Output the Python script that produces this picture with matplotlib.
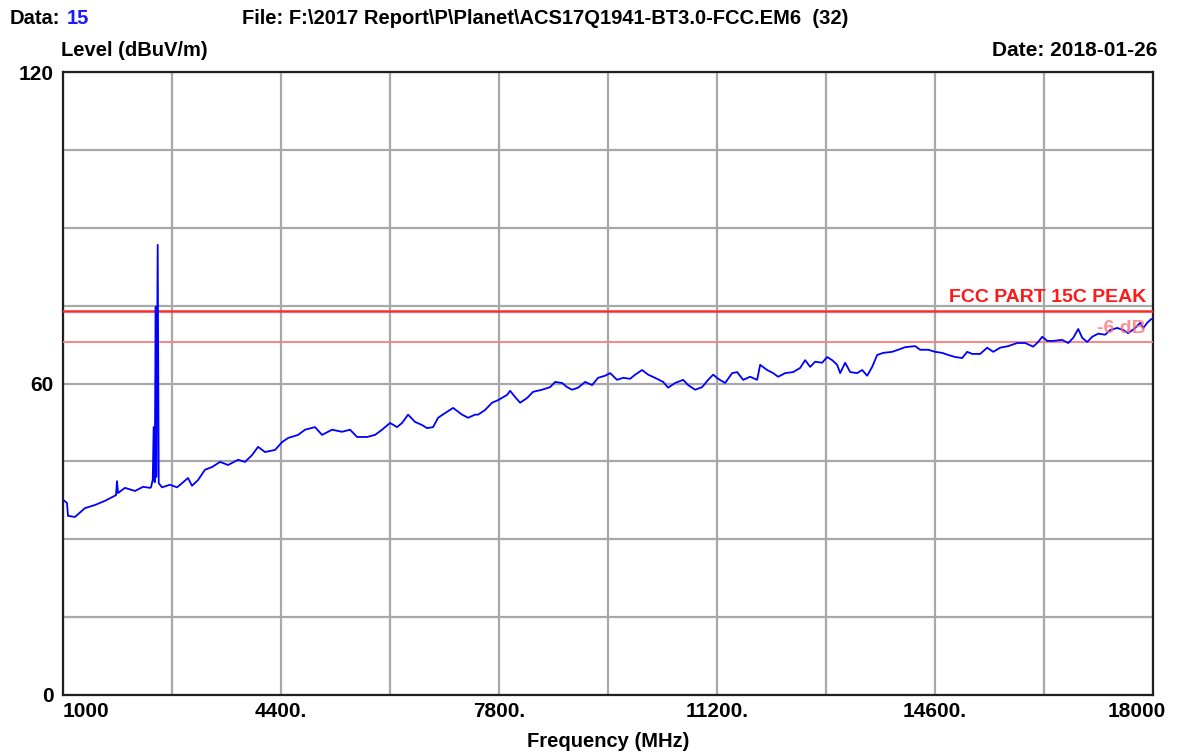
import matplotlib
matplotlib.use("Agg")
import matplotlib.pyplot as plt
import matplotlib.transforms as mtransforms

# ---------------- data ----------------
freq_mhz = [1000, 1062, 1078, 1187, 1343, 1499, 1655, 1780, 1827, 1842, 1858, 1967,
            2123, 2248, 2357, 2373, 2400, 2414, 2430, 2446, 2455, 2477, 2493,
            2544, 2669, 2778, 2856, 2950, 3012, 3106, 3215, 3324, 3449, 3574,
            3730, 3839, 3948, 4042, 4151, 4307, 4416, 4510, 4666, 4775, 4931,
            5040, 5196, 5352, 5477, 5586, 5742, 5867, 5976, 6101, 6210, 6288,
            6382, 6491, 6600, 6678, 6772, 6850, 6959, 7084, 7224, 7318, 7427,
            7474, 7583, 7692, 7786, 7926, 7973, 8051, 8129, 8238, 8332, 8472,
            8597, 8675, 8784, 8862, 8940, 9034, 9143, 9252, 9346, 9455, 9533,
            9642, 9736, 9845, 9923, 10032, 10126, 10266, 10360, 10438, 10547,
            10672, 10750, 10859, 10968, 11062, 11140, 11218, 11327, 11436,
            11514, 11608, 11717, 11826, 11873, 11982, 12076, 12154, 12263,
            12388, 12497, 12575, 12653, 12731, 12840, 12918, 12996, 13074,
            13121, 13199, 13277, 13386, 13464, 13542, 13620, 13698, 13792,
            13932, 14026, 14136, 14291, 14369, 14494, 14603, 14712, 14806,
            14915, 15024, 15102, 15180, 15305, 15414, 15508, 15617, 15742,
            15882, 16007, 16132, 16210, 16272, 16350, 16444, 16584, 16678,
            16756, 16834, 16896, 16974, 17052, 17146, 17255, 17333, 17442,
            17536, 17614, 17723, 17801, 17848, 17910, 17972, 18000]
level_dbuv = [37.6, 37.0, 34.5, 34.3, 36.0, 36.6, 37.4, 38.2, 38.5, 41.2, 38.9, 39.9,
              39.3, 40.1, 39.9, 40.0, 41.5, 51.6, 41.0, 74.8, 42.0, 86.7, 40.8,
              40.0, 40.5, 40.0, 40.8, 41.8, 40.3, 41.4, 43.4, 43.9, 44.9, 44.3,
              45.3, 44.9, 46.2, 47.8, 46.8, 47.2, 48.7, 49.5, 50.1, 51.1, 51.6,
              50.1, 51.1, 50.7, 51.1, 49.7, 49.7, 50.1, 51.1, 52.4, 51.6, 52.4,
              54.0, 52.6, 52.0, 51.4, 51.6, 53.4, 54.3, 55.3, 54.0, 53.4, 54.0,
              54.0, 54.9, 56.3, 56.8, 57.8, 58.6, 57.4, 56.3, 57.2, 58.4, 58.8,
              59.3, 60.3, 60.1, 59.3, 58.8, 59.2, 60.3, 59.7, 61.1, 61.5, 62.0,
              60.7, 61.1, 60.9, 61.7, 62.6, 61.7, 60.9, 60.3, 59.2, 60.1,
              60.7, 59.7, 58.8, 59.3, 60.7, 61.7, 60.9, 60.1, 62.0,
              62.2, 60.7, 61.3, 60.7, 63.6, 62.6, 62.0, 61.3, 62.0,
              62.2, 63.0, 64.5, 63.2, 64.2, 64.0, 65.1, 64.5, 63.6,
              62.0, 64.0, 62.2, 62.0, 62.6, 61.5, 63.2, 65.5, 65.9,
              66.1, 66.5, 67.0, 67.2, 66.5, 66.5, 66.1, 65.9, 65.5,
              65.1, 64.9, 66.1, 65.7, 65.7, 66.9, 66.1, 66.9, 67.2,
              67.8, 67.8, 67.1, 68.0, 69.0, 68.2, 68.2, 68.4, 67.8,
              68.8, 70.5, 68.8, 68.0, 69.0, 69.6, 69.4, 70.3, 70.7,
              70.3, 69.7, 70.7, 71.7, 70.7, 71.7, 72.4, 72.4]

limit_peak = 74.0
limit_margin = 68.0
x_ticks = [1000, 2700, 4400, 6100, 7800, 9500, 11200, 12900, 14600, 16300, 18000]
x_tick_labels = ["1000", "", "4400.", "", "7800.", "", "11200.", "", "14600.", "", "18000"]
y_grid = [0, 15, 30, 45, 60, 75, 90, 105, 120]
y_tick_labels = ["0", "", "", "", "60", "", "", "", "120"]

# ---------------- figure ----------------
W, H = 1178, 752
plt.rcParams['font.family'] = ['Liberation Sans', 'DejaVu Sans']
fig = plt.figure(figsize=(W / 100, H / 100), dpi=100)
L, R, T, B = 63, 1153, 72, 695
ax = fig.add_axes([L / W, 1 - B / H, (R - L) / W, (B - T) / H])

def fx(px):
    return px / W

def fy(py):
    return 1 - py / H

ax.set_xlim(1000, 18000)
ax.set_ylim(0, 120)
ax.set_xticks(x_ticks)
ax.set_xticklabels(x_tick_labels, fontsize=15, fontweight='bold')
ax.set_yticks(y_grid)
ax.set_yticklabels(y_tick_labels, fontsize=15, fontweight='bold')
ax.tick_params(length=0)
ax.tick_params(axis='x', pad=5)
ax.tick_params(axis='y', pad=7)
ax.grid(True, color='#a8a8a8', linewidth=1.6)
ax.set_axisbelow(True)
for s in ax.spines.values():
    s.set_linewidth(1.6)
    s.set_color('#202020')

# adjust edge x tick labels
xl = ax.get_xticklabels()
xl[0].set_ha('left')
xl[-1].set_ha('right')
off = mtransforms.ScaledTranslation(13 / 100, 0, fig.dpi_scale_trans)
xl[-1].set_transform(xl[-1].get_transform() + off)

# limit lines
ax.axhline(limit_peak, color='#ff2a2a', linewidth=1.8, zorder=3)
ax.axhline(limit_margin, color='#ff7a7a', linewidth=1.3, zorder=3)

# trace
ax.plot(freq_mhz, level_dbuv, color='#0000ff', linewidth=1.3, zorder=4)

# limit labels
ax.text((1146 - L) / (R - L), limit_peak + 2.6, "FCC PART 15C PEAK", transform=ax.get_yaxis_transform(),
        ha='right', va='center', color='#ff1a1a', fontsize=14, fontweight='bold', zorder=5)
ax.text((1146 - L) / (R - L), limit_margin + 2.6, "-6 dB", transform=ax.get_yaxis_transform(),
        ha='right', va='center', color='#ff6a6a', alpha=0.75, fontsize=14, fontweight='bold', zorder=5)

# header texts
hs = 14.5
fig.text(fx(10), fy(18), "Data:", ha='left', va='center', fontsize=hs, fontweight='bold', color='black')
fig.text(fx(67), fy(18), "15", ha='left', va='center', fontsize=hs, fontweight='bold', color='#1a1aff')
fig.text(fx(242), fy(18), "File: F:\\2017 Report\\P\\Planet\\ACS17Q1941-BT3.0-FCC.EM6  (32)",
         ha='left', va='center', fontsize=hs, fontweight='bold', color='black')
fig.text(fx(61), fy(51), "Level (dBuV/m)", ha='left', va='center', fontsize=hs, fontweight='bold')
fig.text(fx(1157), fy(51), "Date: 2018-01-26", ha='right', va='center', fontsize=hs + 0.5, fontweight='bold')
ax.set_xlabel("Frequency (MHz)", fontsize=14.5, fontweight='bold', labelpad=8)

fig.savefig("out.png", dpi=100)
